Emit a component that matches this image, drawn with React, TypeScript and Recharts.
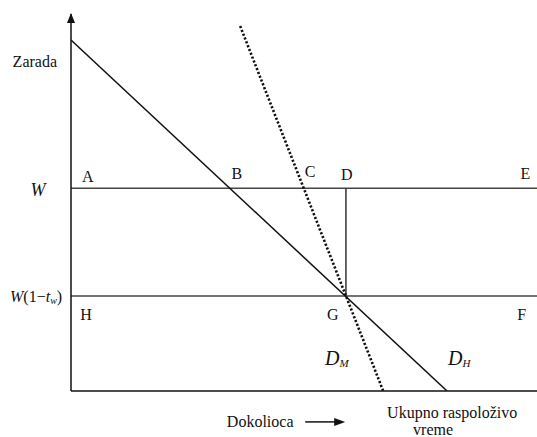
import { ComposedChart, Line, XAxis, YAxis, ReferenceDot } from 'recharts';

// leisure on x (0..100 = total available time), wage on y
const dhLeisure = [0, 80.7];
const dhWage = [93.1, 0];
const dmLeisure = [36.3, 67.0];
const dmWage = [96.8, 0];
const wageGross = 53.8;
const wageNet = 25.2;
const gLeisure = 59.0;

const pointLabels = ['A', 'B', 'C', 'D', 'E', 'H', 'G', 'F'];
const pointX = [3.6, 35.6, 51.3, 59.2, 97.5, 3.2, 56.2, 96.7];
const pointY = [57.0, 57.8, 58.1, 57.3, 57.8, 20.4, 20.2, 20.2];

const FONT = '"Liberation Serif", "DejaVu Serif", serif';
const INK = '#111';

const rows = (xs: number[], ys: number[]) => xs.map((x, i) => ({ x, y: ys[i] }));

const dhData = rows(dhLeisure, dhWage);
const dmData = rows(dmLeisure, dmWage);
const grossData = rows([0, 100], [wageGross, wageGross]);
const netData = rows([0, 100], [wageNet, wageNet]);
const dropData = rows([gLeisure, gLeisure], [wageGross, wageNet]);

type Pos = { cx?: number; cy?: number };

const textProps = {
  style: { fontFamily: FONT },
  fill: INK,
  dominantBaseline: 'central' as const,
};

export default function App() {
  return (
    <div style={{ position: 'absolute', left: 0, top: 0, background: '#fff', fontFamily: FONT }}>
      <ComposedChart width={537} height={437} margin={{ top: 14, right: 0, bottom: 0, left: 0 }}>
        <XAxis
          type="number"
          dataKey="x"
          domain={[0, 100]}
          allowDataOverflow
          height={46}
          tick={false}
          tickLine={false}
          axisLine={{ stroke: INK, strokeWidth: 1.5 }}
        />
        <YAxis
          type="number"
          dataKey="y"
          domain={[0, 100]}
          allowDataOverflow
          width={71}
          tick={false}
          tickLine={false}
          axisLine={{ stroke: INK, strokeWidth: 1.5 }}
        />
        <Line data={grossData} dataKey="y" type="linear" stroke="#444" strokeWidth={1.5} dot={false} isAnimationActive={false} />
        <Line data={netData} dataKey="y" type="linear" stroke="#444" strokeWidth={1.5} dot={false} isAnimationActive={false} />
        <Line data={dropData} dataKey="y" type="linear" stroke="#333" strokeWidth={1.5} dot={false} isAnimationActive={false} />
        <Line data={dhData} dataKey="y" type="linear" stroke={INK} strokeWidth={1.5} dot={false} isAnimationActive={false} />
        <Line data={dmData} dataKey="y" type="linear" stroke={INK} strokeWidth={2.6} strokeDasharray="2.2 1.9" dot={false} isAnimationActive={false} />

        {/* arrow head on the wage axis */}
        <ReferenceDot
          x={0} y={100} ifOverflow="visible"
          shape={({ cx = 0, cy = 0 }: Pos) => (
            <path d={`M${cx},${cy - 1} L${cx - 4},${cy + 9} L${cx + 4},${cy + 9} Z`} fill={INK} />
          )}
        />

        {pointLabels.map((l, i) => (
          <ReferenceDot
            key={l}
            x={pointX[i]} y={pointY[i]} ifOverflow="visible"
            shape={({ cx = 0, cy = 0 }: Pos) => (
              <text x={cx} y={cy} textAnchor="middle" fontSize={16} {...textProps}>{l}</text>
            )}
          />
        ))}

        <ReferenceDot
          x={-3} y={87.3} ifOverflow="visible"
          shape={({ cx = 0, cy = 0 }: Pos) => (
            <text x={cx} y={cy} textAnchor="end" fontSize={16} {...textProps}>Zarada</text>
          )}
        />
        <ReferenceDot
          x={-7.1} y={wageGross} ifOverflow="visible"
          shape={({ cx = 0, cy = 0 }: Pos) => (
            <text x={cx} y={cy + 2} textAnchor="middle" fontSize={18} fontStyle="italic" {...textProps}>W</text>
          )}
        />
        <ReferenceDot
          x={-1.9} y={wageNet} ifOverflow="visible"
          shape={({ cx = 0, cy = 0 }: Pos) => (
            <text x={cx} y={cy} textAnchor="end" fontSize={16} {...textProps}>
              <tspan fontStyle="italic">W</tspan>
              <tspan>(1−</tspan>
              <tspan fontStyle="italic">t</tspan>
              <tspan fontStyle="italic" fontSize={10} dy={4}>w</tspan>
              <tspan dy={-4}>)</tspan>
            </text>
          )}
        />

        <ReferenceDot
          x={54.5} y={8.8} ifOverflow="visible"
          shape={({ cx = 0, cy = 0 }: Pos) => (
            <text x={cx} y={cy} textAnchor="start" fontSize={20} fontStyle="italic" {...textProps}>
              D<tspan fontSize={11} dy={5}>M</tspan>
            </text>
          )}
        />
        <ReferenceDot
          x={80.9} y={8.8} ifOverflow="visible"
          shape={({ cx = 0, cy = 0 }: Pos) => (
            <text x={cx} y={cy} textAnchor="start" fontSize={20} fontStyle="italic" {...textProps}>
              D<tspan fontSize={11} dy={5}>H</tspan>
            </text>
          )}
        />

        <ReferenceDot
          x={40.6} y={-8.2} ifOverflow="visible"
          shape={({ cx = 0, cy = 0 }: Pos) => (
            <g>
              <text x={cx} y={cy} textAnchor="middle" fontSize={16} {...textProps}>Dokolioca</text>
              <line x1={cx + 45} y1={cy} x2={cx + 76} y2={cy} stroke={INK} strokeWidth={1.5} />
              <path d={`M${cx + 85},${cy} L${cx + 74},${cy - 4} L${cx + 74},${cy + 4} Z`} fill={INK} />
            </g>
          )}
        />
        <ReferenceDot
          x={81.8} y={-5.6} ifOverflow="visible"
          shape={({ cx = 0, cy = 0 }: Pos) => (
            <text x={cx} y={cy} textAnchor="middle" fontSize={16} {...textProps}>Ukupno raspoloživo</text>
          )}
        />
        <ReferenceDot
          x={77.7} y={-10.3} ifOverflow="visible"
          shape={({ cx = 0, cy = 0 }: Pos) => (
            <text x={cx} y={cy} textAnchor="middle" fontSize={16} {...textProps}>vreme</text>
          )}
        />
      </ComposedChart>
    </div>
  );
}
